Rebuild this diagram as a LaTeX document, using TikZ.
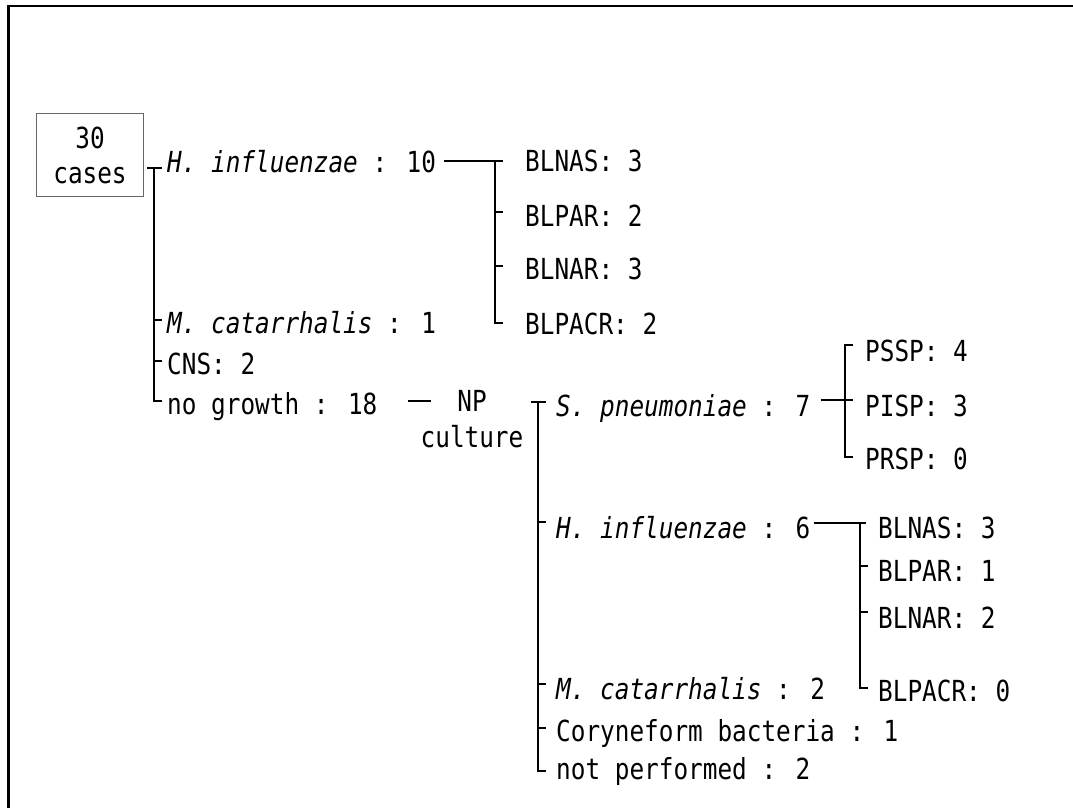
\documentclass[tikz,border=0pt]{standalone}
\usepackage{fontspec}
\usetikzlibrary{calc}
\newfontfamily\gothic[FakeStretch=0.84,ItalicFont={DejaVu Sans Mono Oblique}]{DejaVu Sans Mono}
\newcommand{\species}[1]{\textit{#1}}
\tikzset{
  lbl/.style={anchor=west, inner sep=0pt, text height=22pt, text depth=0pt,
              font=\gothic\fontsize{29}{36}\selectfont},
  br/.style={line width=2.8pt},
}
\begin{document}
\begin{tikzpicture}[x=1pt,y=-1pt]
\useasboundingbox (0,0) rectangle (1073,808);
% page frame
\draw[line width=2.5pt] (8.5,808) -- (8.5,6) -- (1073,6);

% total
\node[draw=black!60, line width=1pt, minimum width=107pt, minimum height=83pt,
      inner sep=0pt, align=center, font=\gothic\fontsize{29}{35}\selectfont]
      (total) at (90,155) {30\\cases};

% first level
\node[lbl] (hinf10)   at (167,161) {\species{H. influenzae} : 10};
\node[lbl] (mcat1)    at (167,322) {\species{M. catarrhalis} : 1};
\node[lbl] (cns)      at (167,363) {CNS: 2};
\node[lbl] (nogrowth) at (167,403) {no growth : 18};

% H. influenzae (10) subtypes
\node[lbl] (blnas1)  at (525,160) {BLNAS: 3};
\node[lbl] (blpar1)  at (525,215) {BLPAR: 2};
\node[lbl] (blnar1)  at (525,268) {BLNAR: 3};
\node[lbl] (blpacr1) at (525,323) {BLPACR: 2};

% NP culture
\node[anchor=north, inner sep=0pt, align=center, font=\gothic\fontsize{29}{36}\selectfont]
      (np) at (472,390) {NP\\culture};

\node[lbl] (spn)     at (556,405) {\species{S. pneumoniae} : 7};
\node[lbl] (hinf6)   at (556,527) {\species{H. influenzae} : 6};
\node[lbl] (mcat2)   at (556,688) {\species{M. catarrhalis} : 2};
\node[lbl] (cory)    at (556,730) {Coryneform bacteria : 1};
\node[lbl] (notperf) at (556,768) {not performed : 2};

% S. pneumoniae subtypes
\node[lbl] (pssp) at (865,350) {PSSP: 4};
\node[lbl] (pisp) at (865,405) {PISP: 3};
\node[lbl] (prsp) at (865,458) {PRSP: 0};

% H. influenzae (6) subtypes
\node[lbl] (blnas2)  at (878,527) {BLNAS: 3};
\node[lbl] (blpar2)  at (878,570) {BLPAR: 1};
\node[lbl] (blnar2)  at (878,617) {BLNAR: 2};
\node[lbl] (blpacr2) at (878,690) {BLPACR: 0};

% bracket spines
\coordinate (m) at (154,0);
\coordinate (b) at (495,0);
\coordinate (n) at (538,0);
\coordinate (s) at (845,0);
\coordinate (h) at (860,0);

% main bracket
\draw[br] ($(m |- hinf10.west)+(-7,7)$) -- ++(15,0);
\draw[br] ($(m |- hinf10.west)+(0,7)$) -- ($(m |- nogrowth.west)+(0,-2)$) -- ++(8,0);
\draw[br] ($(m |- mcat1.west)+(0,-2)$) -- ++(8,0);
\draw[br] ($(m |- cns.west)+(0,-2)$) -- ++(8,0);

% H. influenzae (10) bracket
\draw[br] ($(hinf10.east)+(8,0)$) -- ($(b |- hinf10.east)+(8,0)$);
\draw[br] (b |- hinf10.east) -- (b |- blpacr1.west) -- ++(8,0);
\draw[br] ($(b |- blpar1.west)+(0,-3)$) -- ++(8,0);
\draw[br] ($(b |- blnar1.west)+(0,-2)$) -- ++(8,0);

% no growth -> NP culture
\draw[br] ($(nogrowth.east)+(30,-2)$) -- ($(nogrowth.east -| np.west)+(11,-2)$);

% NP culture bracket
\draw[br] ($(n |- spn.west)+(-7,-3)$) -- ++(15,0);
\draw[br] ($(n |- spn.west)+(0,-3)$) -- ($(n |- notperf.west)+(0,3)$) -- ++(8,0);
\draw[br] ($(n |- hinf6.west)+(0,-5)$) -- ++(8,0);
\draw[br] ($(n |- mcat2.west)+(0,-4)$) -- ++(8,0);
\draw[br] ($(n |- cory.west)+(0,-2)$) -- ++(8,0);

% S. pneumoniae bracket
\draw[br] ($(spn.east)+(10,-5)$) -- ($(s |- spn.east)+(8,-5)$);
\draw[br] ($(s |- pssp.west)+(8,-5)$) -- ($(s |- pssp.west)+(0,-5)$)
          -- ($(s |- prsp.west)+(0,-1)$) -- ++(8,0);

% H. influenzae (6) bracket
\draw[br] ($(hinf6.east)+(3,-4)$) -- ($(h |- hinf6.east)+(6,-4)$);
\draw[br] ($(h |- hinf6.east)+(0,-4)$) -- ($(h |- blpacr2.west)+(0,-2)$) -- ++(8,0);
\draw[br] ($(h |- blpar2.west)+(0,-4)$) -- ++(8,0);
\draw[br] ($(h |- blnar2.west)+(0,-5)$) -- ++(8,0);
\end{tikzpicture}
\end{document}
